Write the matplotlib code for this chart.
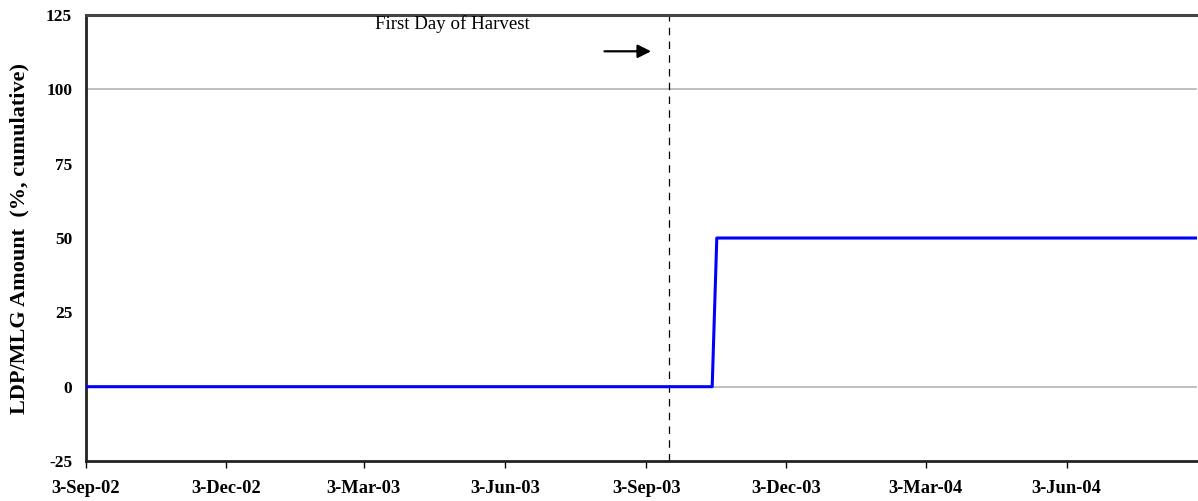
import matplotlib as mpl
mpl.use('Agg')
import matplotlib.pyplot as plt
import matplotlib.dates as mdates
import datetime as dt

# data
dates = [dt.date(2002, 9, 3), dt.date(2003, 10, 16), dt.date(2003, 10, 19), dt.date(2004, 8, 27)]
amount = [0, 0, 50, 50]
harvest_day = dt.date(2003, 9, 18)
tick_dates = [dt.date(2002, 9, 3), dt.date(2002, 12, 3), dt.date(2003, 3, 3), dt.date(2003, 6, 3),
              dt.date(2003, 9, 3), dt.date(2003, 12, 3), dt.date(2004, 3, 3), dt.date(2004, 6, 3)]
tick_labels = ['3-Sep-02', '3-Dec-02', '3-Mar-03', '3-Jun-03', '3-Sep-03', '3-Dec-03', '3-Mar-04', '3-Jun-04']
y_ticks = [-25, 0, 25, 50, 75, 100, 125]

plt.rcParams['font.family'] = ['Liberation Serif', 'DejaVu Serif']

fig = plt.figure(figsize=(11.98, 5.01), dpi=100)
ax = fig.add_axes([0.0718, 0.0798, 0.9275, 0.8902])

for g in [0, 100]:
    ax.axhline(g, color='#b4b4b4', lw=1.2, zorder=1)

ax.plot(dates, amount, color='#0000ff', lw=2.2, zorder=3)
ax.axvline(harvest_day, color='black', lw=0.9, ls=(0, (6, 5)), zorder=2)

ax.annotate('', xy=(dt.date(2003, 9, 8), 112.8), xytext=(dt.date(2003, 8, 5), 112.8),
            arrowprops=dict(arrowstyle='-|>', color='black', lw=1.6, mutation_scale=20))
ax.text(dt.date(2003, 4, 30), 121.8, 'First Day of Harvest', fontsize=13.6, ha='center', va='center')

ax.set_xlim(dates[0], dates[-1])
ax.set_ylim(-25, 125)
ax.set_xticks([mdates.date2num(d) for d in tick_dates])
ax.set_xticklabels(tick_labels, fontsize=13.3, fontweight='bold')
ax.set_yticks(y_ticks)
ax.set_yticklabels([str(v) for v in y_ticks], fontsize=12.5, fontweight='bold')
ax.tick_params(axis='x', length=5, width=1, direction='out', pad=9)
ax.tick_params(axis='y', length=0, pad=10)
ax.set_ylabel('LDP/MLG Amount  (%, cumulative)', fontsize=16, fontweight='bold', labelpad=12)

for s in ['left', 'bottom']:
    ax.spines[s].set_linewidth(2)
    ax.spines[s].set_color('#222222')
ax.spines['top'].set_linewidth(2.2)
ax.spines['top'].set_color('#444444')
ax.spines['right'].set_visible(False)

fig.savefig('out.png', dpi=100)
